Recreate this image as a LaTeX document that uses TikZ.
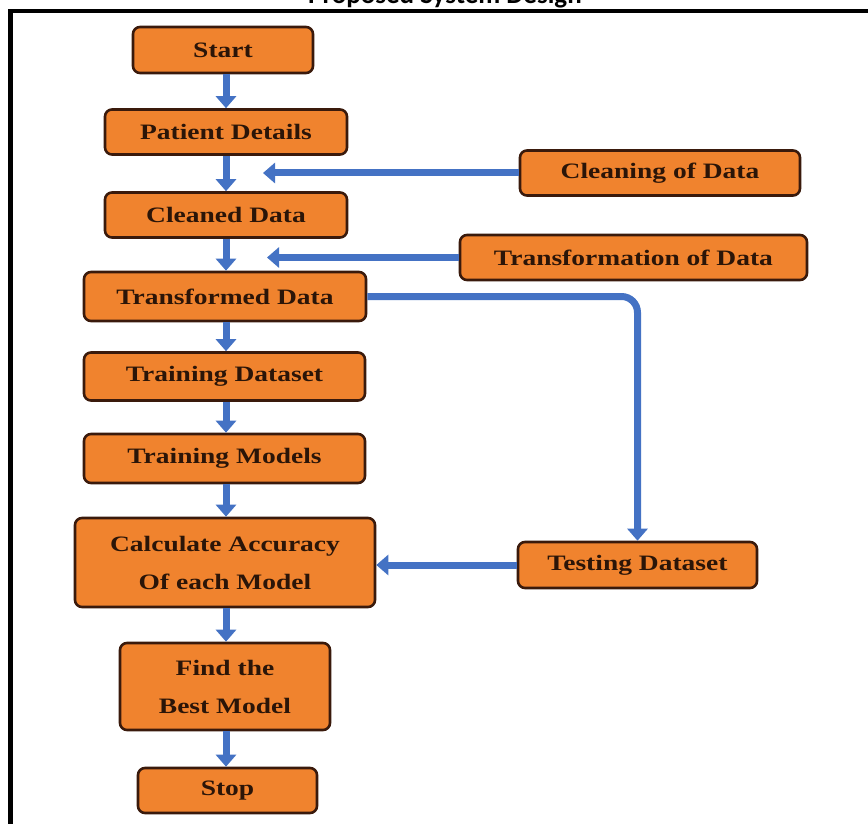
\documentclass[tikz,border=0pt]{standalone}
\usepackage{fontspec}
\usetikzlibrary{arrows.meta}
\newfontfamily\boxfont{Liberation Serif}[FakeStretch=1.25]
\newfontfamily\titlefont{Carlito}
\definecolor{boxfill}{HTML}{F0832E}
\definecolor{boxline}{HTML}{3A1A0C}
\definecolor{boxtext}{HTML}{2B1508}
\definecolor{arrowblue}{HTML}{4472C4}
\tikzset{
  procbox/.style={draw=boxline, line width=2.6pt, fill=boxfill, rounded corners=7pt,
    text=boxtext, font=\boxfont\bfseries\fontsize{22}{38}\selectfont, align=center,
    inner sep=0pt},
  flow/.style={draw=arrowblue, line width=7pt,
    -{Triangle[width=20pt,length=12pt]}},
  flowline/.style={draw=arrowblue, line width=7pt}
}
\begin{document}
\begin{tikzpicture}[x=1pt,y=-1pt]
\useasboundingbox (0,0) rectangle (868,824);
\clip (0,0) rectangle (868,824);
\fill[white] (0,0) rectangle (868,824);
% title (cut off at top)
\node[font=\titlefont\bfseries\fontsize{27}{30}\selectfont, anchor=base, inner sep=0pt] (title) at (445,4) {Proposed System Design};
% frame
\draw[line width=4.5pt] (880,11) -- (10.5,11) -- (10.5,840);
% main column
\node[procbox, minimum width=180pt, minimum height=46pt] (start) at (223,50) {Start};
\node[procbox, minimum width=242pt, minimum height=45pt] (patient) at (226,132) {Patient Details};
\node[procbox, minimum width=242pt, minimum height=45pt] (cleaned) at (226,215) {Cleaned Data};
\node[procbox, minimum width=282pt, minimum height=49pt] (transformed) at (225,296.5) {Transformed Data};
\node[procbox, minimum width=281pt, minimum height=48pt] (trainset) at (224.5,376.5) {Training Dataset};
\node[procbox, minimum width=281pt, minimum height=49pt] (trainmod) at (224.5,458.5) {Training Models};
\node[procbox, minimum width=300pt, minimum height=89pt] (calc) at (225,562.5) {Calculate Accuracy\\Of each Model};
\node[procbox, minimum width=210pt, minimum height=87pt] (find) at (225,686.5) {Find the\\Best Model};
\node[procbox, minimum width=179pt, minimum height=45pt] (stop) at (227.5,790.5) {Stop};
% side boxes
\node[procbox, minimum width=280pt, minimum height=45pt] (cleaning) at (660,173) {Cleaning of Data};
\node[procbox, minimum width=347pt, minimum height=45pt] (transformation) at (633.5,257.5) {Transformation of Data};
\node[procbox, minimum width=239pt, minimum height=46pt] (testing) at (637.5,565) {Testing Dataset};
% free ends of side arrows
\coordinate (cleanend) at (263,173);
\coordinate (transend) at (267,257.5);
% vertical flow arrows
\draw[flow] (start.south -| 226,0) -- (patient.north -| 226,0);
\draw[flow] (patient.south -| 226,0) -- (cleaned.north -| 226,0);
\draw[flow] (cleaned.south -| 226,0) -- (transformed.north -| 226,0);
\draw[flow] (transformed.south -| 226,0) -- (trainset.north -| 226,0);
\draw[flow] (trainset.south -| 226,0) -- (trainmod.north -| 226,0);
\draw[flow] (trainmod.south -| 226,0) -- (calc.north -| 226,0);
\draw[flow] (calc.south -| 226,0) -- (find.north -| 226,0);
\draw[flow] (find.south -| 226,0) -- (stop.north -| 226,0);
% side arrows
\draw[flow] (cleaning.west) -- (cleanend);
\draw[flow] (transformation.west) -- (transend);
\draw[flow, rounded corners=16pt] (transformed.east) -| (testing.north);
\draw[flow] (testing.west) -- (testing.west -| calc.east);
\end{tikzpicture}
\end{document}
